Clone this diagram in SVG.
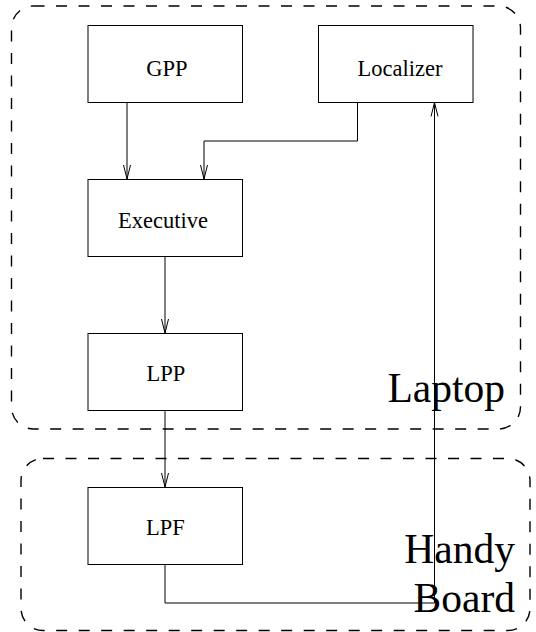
<svg xmlns="http://www.w3.org/2000/svg" width="536" height="632" viewBox="0 0 536 632">
<style>
.grp{fill:none;stroke:#000;stroke-width:1.4;stroke-dasharray:11 11.5}
.box{fill:#fff;stroke:#000;stroke-width:1}
.lbl{font-family:"Liberation Serif","Times New Roman",serif;font-size:22.5px;fill:#000;text-anchor:middle}
.big{font-family:"Liberation Serif","Times New Roman",serif;font-size:41.5px;fill:#000;text-anchor:end}
.con{fill:none;stroke:#000;stroke-width:1}
</style>
<defs>
<marker id="ah" viewBox="-15 -5 16 10" markerWidth="16" markerHeight="10" refX="0" refY="0" orient="auto" markerUnits="userSpaceOnUse">
<path d="M-14,-3.5 L0,0 L-14,3.5" fill="none" stroke="#000" stroke-width="1"/>
</marker>
</defs>
<g id="laptop">
<rect class="grp" x="11.5" y="6" width="509" height="423" rx="22" ry="22"/>
<text class="big" x="505" y="402">Laptop</text>
</g>
<g id="handyboard">
<rect class="grp" x="21" y="458.5" width="509" height="172" rx="22" ry="22"/>
<text class="big" x="515" y="563">Handy</text>
<text class="big" x="515" y="612">Board</text>
</g>
<g id="connectors">
<path class="con" d="M127,102.5 V179" marker-end="url(#ah)"/>
<path class="con" d="M357.5,102.5 V141 H204 V179" marker-end="url(#ah)"/>
<path class="con" d="M165,256.5 V333" marker-end="url(#ah)"/>
<path class="con" d="M165,410.5 V487" marker-end="url(#ah)"/>
<path class="con" d="M165,564.5 V603 H434.5 V102.5" marker-end="url(#ah)"/>
</g>
<g id="gpp">
<rect class="box" x="88" y="25.5" width="154.5" height="77"/>
<text class="lbl" x="167" y="76">GPP</text>
</g>
<g id="localizer">
<rect class="box" x="318.5" y="25.5" width="154.5" height="77"/>
<text class="lbl" x="400" y="76">Localizer</text>
</g>
<g id="executive">
<rect class="box" x="88" y="179.5" width="154.5" height="77"/>
<text class="lbl" x="163" y="228">Executive</text>
</g>
<g id="lpp">
<rect class="box" x="88" y="333.5" width="154.5" height="77"/>
<text class="lbl" x="166" y="381">LPP</text>
</g>
<g id="lpf">
<rect class="box" x="88" y="487.5" width="154.5" height="77"/>
<text class="lbl" x="165.5" y="535">LPF</text>
</g>
</svg>
